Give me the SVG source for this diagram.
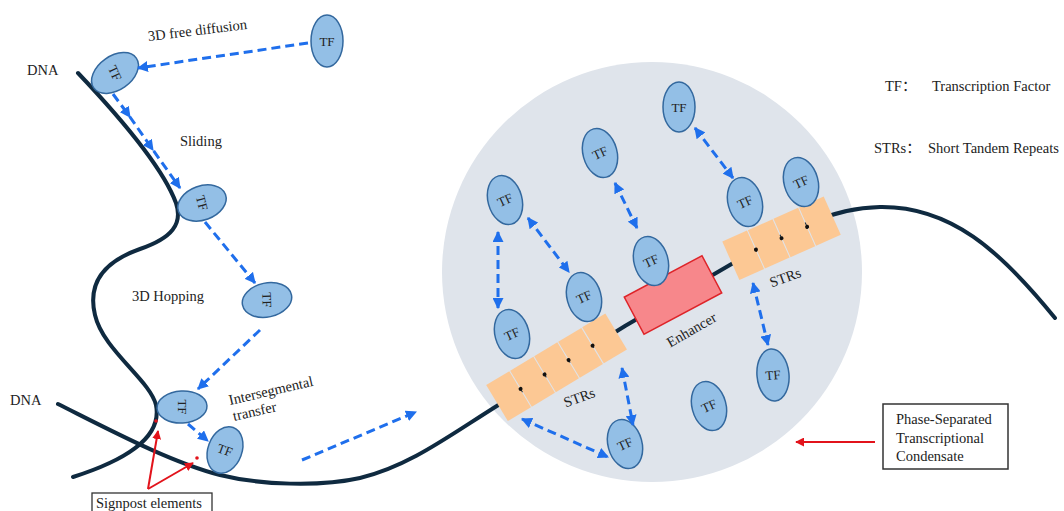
<svg xmlns="http://www.w3.org/2000/svg" width="1064" height="511" viewBox="0 0 1064 511">
  <style>
    text { font-family: "Liberation Serif", "Noto Sans CJK SC", serif; font-size: 14.5px; fill: #222; }
    .tf ellipse { fill: #93bfe6; stroke: #33689e; stroke-width: 1.5; }
    .tf text { text-anchor: middle; font-size: 13px; }
    .dna { fill: none; stroke: #0f2a40; stroke-width: 4; stroke-linecap: round; }
    .flow { fill: none; stroke: #1f6fec; stroke-width: 3; stroke-dasharray: 9 5; marker-end: url(#ah); }
    .both { marker-start: url(#ah); }
    .red { fill: none; stroke: #e2131b; stroke-width: 2; marker-end: url(#rh); }
    .str rect { fill: #fcc894; }
    .dot { fill: #111; }
  </style>
  <defs>
    <marker id="ah" viewBox="0 0 10 10" refX="9" refY="5" markerWidth="11" markerHeight="11" markerUnits="userSpaceOnUse" orient="auto-start-reverse">
      <path d="M0,0 L10,5 L0,10 z" fill="#1f6fec"/>
    </marker>
    <marker id="rh" viewBox="0 0 10 10" refX="9" refY="5" markerWidth="9" markerHeight="9" markerUnits="userSpaceOnUse" orient="auto">
      <path d="M0,0 L10,5 L0,10 z" fill="#e2131b"/>
    </marker>
  </defs>

  <!-- condensate droplet -->
  <circle id="condensate" cx="652" cy="272" r="210" fill="#dfe4eb"/>

  <!-- DNA strands -->
  <g id="dna">
    <path class="dna" d="M78,73 C 115,112 162,165 176,203 C 183,224 172,238 140,249 C 100,263 88,286 95,315 C 103,350 150,380 156,405 C 163,440 120,462 73,477"/>
    <path class="dna" d="M58,404 C 110,430 170,462 220,475 C 260,485 320,487 360,478 C 410,466 450,435 500,404 L 625,326 L 735,262 C 790,230 830,208 880,207 C 950,206 1000,250 1055,318"/>
  </g>

  <!-- short tandem repeats, left -->
  <g id="strs-left" class="str" transform="translate(557,367) rotate(-31)">
    <rect x="-70" y="-21" width="27" height="42"/>
    <rect x="-42" y="-21" width="27" height="42"/>
    <rect x="-14" y="-21" width="27" height="42"/>
    <rect x="14" y="-21" width="27" height="42"/>
    <rect x="42" y="-21" width="27" height="42"/>
    <circle class="dot" cx="-42.5" cy="0" r="2"/>
    <circle class="dot" cx="-14.5" cy="0" r="2"/>
    <circle class="dot" cx="13.5" cy="0" r="2"/>
    <circle class="dot" cx="41.5" cy="0" r="2"/>
  </g>
  <text transform="translate(581,402) rotate(-20)" text-anchor="middle">STRs</text>

  <!-- short tandem repeats, right -->
  <g id="strs-right" class="str" transform="translate(782,238) rotate(-24)">
    <rect x="-56" y="-21" width="27" height="42"/>
    <rect x="-28" y="-21" width="27" height="42"/>
    <rect x="0" y="-21" width="27" height="42"/>
    <rect x="28" y="-21" width="27" height="42"/>
    <circle class="dot" cx="-28.5" cy="0" r="2"/>
    <circle class="dot" cx="-0.5" cy="0" r="2"/>
    <circle class="dot" cx="27.5" cy="0" r="2"/>
  </g>
  <text transform="translate(787,282) rotate(-20)" text-anchor="middle">STRs</text>

  <!-- enhancer -->
  <g id="enhancer">
    <rect x="-44" y="-21" width="88" height="42" transform="translate(673,295) rotate(-28)" fill="#f7878b" stroke="#de2429" stroke-width="1.5"/>
    <text transform="translate(694,334) rotate(-30)" text-anchor="middle">Enhancer</text>
  </g>

  <!-- transcription factors outside the droplet -->
  <g id="tf-free" class="tf"><ellipse cx="327" cy="41" rx="16" ry="26"/><text x="327" y="46">TF</text></g>
  <g id="tf-bound" class="tf" transform="translate(115,73) rotate(-35)"><ellipse rx="26" ry="17"/><text transform="rotate(100)" y="4.5">TF</text></g>
  <g id="tf-slide" class="tf" transform="translate(202,203) rotate(-20)"><ellipse rx="25" ry="17"/><text transform="rotate(95)" y="4.5">TF</text></g>
  <g id="tf-hop" class="tf" transform="translate(267,300) rotate(-12)"><ellipse rx="25" ry="17"/><text transform="rotate(100)" y="4.5">TF</text></g>
  <g id="tf-inter" class="tf" transform="translate(182,407) rotate(-3)"><ellipse rx="25" ry="16"/><text transform="rotate(93)" y="4.5">TF</text></g>
  <g id="tf-transfer" class="tf" transform="translate(225,450) rotate(20)"><ellipse rx="17" ry="24"/><text y="4.5">TF</text></g>

  <!-- transcription factors inside the droplet -->
  <g id="tf-c1" class="tf" transform="translate(505,200) rotate(-15)"><ellipse rx="17" ry="25"/><text transform="rotate(-10)" y="4.5">TF</text></g>
  <g id="tf-c2" class="tf" transform="translate(600,153) rotate(-15)"><ellipse rx="17" ry="25"/><text transform="rotate(-10)" y="4.5">TF</text></g>
  <g id="tf-c3" class="tf" transform="translate(679,107)"><ellipse rx="16" ry="25"/><text y="4.5">TF</text></g>
  <g id="tf-c4" class="tf" transform="translate(745,202) rotate(-15)"><ellipse rx="17" ry="25"/><text transform="rotate(-10)" y="4.5">TF</text></g>
  <g id="tf-c5" class="tf" transform="translate(801,182) rotate(-15)"><ellipse rx="17" ry="25"/><text transform="rotate(-10)" y="4.5">TF</text></g>
  <g id="tf-c6" class="tf" transform="translate(651,261) rotate(-15)"><ellipse rx="17" ry="25"/><text transform="rotate(-10)" y="4.5">TF</text></g>
  <g id="tf-c7" class="tf" transform="translate(584,297) rotate(-15)"><ellipse rx="17" ry="25"/><text transform="rotate(-10)" y="4.5">TF</text></g>
  <g id="tf-c8" class="tf" transform="translate(512,334) rotate(-15)"><ellipse rx="17" ry="25"/><text transform="rotate(-10)" y="4.5">TF</text></g>
  <g id="tf-c9" class="tf" transform="translate(625,444) rotate(-15)"><ellipse rx="17" ry="25"/><text transform="rotate(-10)" y="4.5">TF</text></g>
  <g id="tf-c10" class="tf" transform="translate(709,406) rotate(-15)"><ellipse rx="17" ry="25"/><text transform="rotate(-10)" y="4.5">TF</text></g>
  <g id="tf-c11" class="tf" transform="translate(773,375) rotate(-5)"><ellipse rx="16" ry="26"/><text y="4.5">TF</text></g>

  <!-- movement connectors -->
  <g id="connectors">
    <path class="flow" d="M308,43 L138,68"/>
    <path class="flow" d="M113,94 L130,117 L153,150 L180,188" marker-mid="url(#ah)"/>
    <path class="flow" d="M205,222 L255,283"/>
    <path class="flow" d="M260,330 L198,389"/>
    <path class="flow" d="M188,424 L208,441"/>
    <path class="flow" d="M302,460 L416,412"/>

    <path class="flow both" d="M498,232 L498,308"/>
    <path class="flow both" d="M528,218 L569,272"/>
    <path class="flow both" d="M615,183 L637,228"/>
    <path class="flow both" d="M695,128 L733,178"/>
    <path class="flow both" d="M753,283 L768,345"/>
    <path class="flow both" d="M622,368 L633,425"/>
    <path class="flow both" d="M522,419 L608,457"/>

    <path class="red" d="M148,489 L158,431"/>
    <path class="red" d="M148,489 L193,463"/>
    <path class="red" d="M875,442 L796,442"/>
  </g>

  <!-- signpost marks -->
  <circle cx="156" cy="421" r="1.8" fill="#e2131b"/>
  <circle cx="197" cy="458" r="1.8" fill="#e2131b"/>

  <!-- labels -->
  <text transform="translate(198,35) rotate(-7)" text-anchor="middle">3D free diffusion</text>
  <text x="27" y="75">DNA</text>
  <text x="180" y="146">Sliding</text>
  <text x="132" y="301">3D Hopping</text>
  <text x="10" y="405">DNA</text>
  <text transform="translate(230,405) rotate(-13)">Intersegmental</text>
  <text transform="translate(234,421) rotate(-13)">transfer</text>

  <g id="signpost-label">
    <rect x="92" y="493" width="120" height="22" fill="#fff" stroke="#333" stroke-width="1.3"/>
    <text x="96" y="508">Signpost elements</text>
  </g>

  <g id="legend">
    <text x="885" y="91">TF：</text>
    <text x="932" y="91">Transcription Factor</text>
    <text x="874" y="153">STRs：</text>
    <text x="928" y="153">Short Tandem Repeats</text>
  </g>

  <g id="condensate-label">
    <rect x="883" y="404" width="125" height="65" fill="#fff" stroke="#333" stroke-width="1.5"/>
    <text x="896" y="424">Phase-Separated</text>
    <text x="896" y="443">Transcriptional</text>
    <text x="896" y="461">Condensate</text>
  </g>
</svg>
